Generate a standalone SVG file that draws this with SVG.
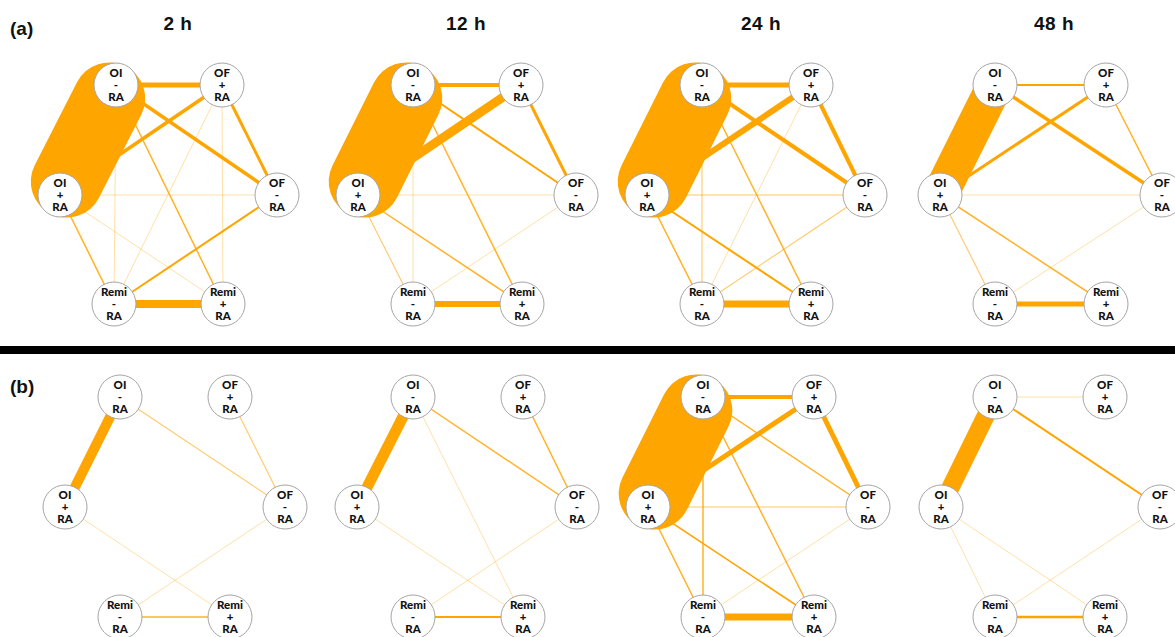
<svg xmlns="http://www.w3.org/2000/svg" width="1175" height="637" viewBox="0 0 1175 637">
<style>
.bg{fill:#fff}
.ttl{font-family:"Liberation Sans",Arial,sans-serif;font-weight:bold;font-size:19px;fill:#111}
.nc{fill:#fff;stroke:#a5a5a5;stroke-width:1}
.nt{font-family:Lato,"Liberation Sans",sans-serif;font-weight:900;font-size:11.5px;text-anchor:middle;fill:#111}
.e{stroke:#FFA500;fill:none;stroke-linecap:butt}
.v0{stroke-width:1;stroke-opacity:.35}
.v1{stroke-width:1.1;stroke-opacity:.6}
.v2{stroke-width:1.5;stroke-opacity:.85}
.blob{stroke:#FFA500;fill:none;stroke-linecap:round}
</style>
<rect class="bg" x="0" y="0" width="1175" height="637"/>
<g id="labels">
<text class="ttl" x="10" y="35">(a)</text>
<text class="ttl" x="10" y="393">(b)</text>
<text class="ttl" x="178" y="30" text-anchor="middle" letter-spacing="0.5">2 h</text>
<text class="ttl" x="466" y="30" text-anchor="middle" letter-spacing="0.5">12 h</text>
<text class="ttl" x="761" y="30" text-anchor="middle" letter-spacing="0.5">24 h</text>
<text class="ttl" x="1054" y="30" text-anchor="middle" letter-spacing="0.5">48 h</text>
</g>
<rect id="separator" x="0" y="346" width="1175" height="8" fill="#000"/>
<g id="connectors">
<g id="edges-a1">
<line class="blob" x1="109.2" y1="98.4" x2="66.8" y2="181.6" stroke-width="72"/>
<line class="e v0" x1="222" y1="85" x2="114" y2="304"/>
<line class="e v0" x1="222" y1="85" x2="223" y2="304"/>
<line class="e v0" x1="116" y1="85" x2="114" y2="304"/>
<line class="e v0" x1="60" y1="195" x2="277" y2="195"/>
<line class="e v0" x1="60" y1="195" x2="223" y2="304"/>
<line class="e v2" x1="116" y1="85" x2="223" y2="304"/>
<line class="e v2" x1="60" y1="195" x2="114" y2="304"/>
<line class="e" x1="277" y1="195" x2="114" y2="304" stroke-width="2"/>
<line class="e" x1="222" y1="85" x2="277" y2="195" stroke-width="3"/>
<line class="e" x1="116" y1="85" x2="277" y2="195" stroke-width="3.5"/>
<line class="e" x1="222" y1="85" x2="60" y2="195" stroke-width="3.5"/>
<line class="e" x1="116" y1="85" x2="222" y2="85" stroke-width="5"/>
<line class="e" x1="114" y1="304" x2="223" y2="304" stroke-width="8"/>
</g>
<g id="edges-a2">
<line class="blob" x1="406.3" y1="98.4" x2="364.7" y2="181.6" stroke-width="72"/>
<line class="e v0" x1="413" y1="85" x2="413" y2="304"/>
<line class="e v0" x1="358" y1="195" x2="576" y2="195"/>
<line class="e v0" x1="576" y1="195" x2="413" y2="304"/>
<line class="e v1" x1="358" y1="195" x2="413" y2="304"/>
<line class="e v2" x1="358" y1="195" x2="522" y2="304"/>
<line class="e v2" x1="413" y1="85" x2="522" y2="304"/>
<line class="e" x1="413" y1="85" x2="576" y2="195" stroke-width="2"/>
<line class="e" x1="521" y1="85" x2="576" y2="195" stroke-width="3"/>
<line class="e" x1="413" y1="85" x2="521" y2="85" stroke-width="4"/>
<line class="e" x1="521" y1="85" x2="358" y2="195" stroke-width="9"/>
<line class="e" x1="413" y1="304" x2="522" y2="304" stroke-width="6"/>
</g>
<g id="edges-a3">
<line class="blob" x1="695.3" y1="98.4" x2="653.7" y2="181.6" stroke-width="72"/>
<line class="e v0" x1="811" y1="85" x2="702" y2="304"/>
<line class="e v1" x1="702" y1="85" x2="702" y2="304"/>
<line class="e v1" x1="647" y1="195" x2="865" y2="195"/>
<line class="e v1" x1="865" y1="195" x2="702" y2="304"/>
<line class="e v2" x1="647" y1="195" x2="702" y2="304"/>
<line class="e v2" x1="702" y1="85" x2="811" y2="304"/>
<line class="e" x1="647" y1="195" x2="811" y2="304" stroke-width="2"/>
<line class="e" x1="702" y1="85" x2="865" y2="195" stroke-width="4"/>
<line class="e" x1="811" y1="85" x2="865" y2="195" stroke-width="4"/>
<line class="e" x1="702" y1="85" x2="811" y2="85" stroke-width="5"/>
<line class="e" x1="811" y1="85" x2="647" y2="195" stroke-width="6"/>
<line class="e" x1="702" y1="304" x2="811" y2="304" stroke-width="7"/>
</g>
<g id="edges-a4">
<line class="blob" x1="990.5" y1="93.9" x2="944.5" y2="186.1" stroke-width="36"/>
<line class="e v0" x1="940" y1="195" x2="1162" y2="195"/>
<line class="e v0" x1="1162" y1="195" x2="995" y2="304"/>
<line class="e v1" x1="940" y1="195" x2="995" y2="304"/>
<line class="e v2" x1="940" y1="195" x2="1106" y2="304"/>
<line class="e v2" x1="1106" y1="85" x2="1162" y2="195"/>
<line class="e" x1="995" y1="85" x2="1106" y2="85" stroke-width="2"/>
<line class="e" x1="1106" y1="85" x2="940" y2="195" stroke-width="3"/>
<line class="e" x1="995" y1="85" x2="1162" y2="195" stroke-width="3.5"/>
<line class="e" x1="995" y1="304" x2="1106" y2="304" stroke-width="5"/>
</g>
<g id="edges-b1">
<line class="e v0" x1="65" y1="507" x2="230" y2="617"/>
<line class="e v0" x1="285" y1="507" x2="120" y2="617"/>
<line class="e v1" x1="120" y1="397" x2="285" y2="507"/>
<line class="e v1" x1="230" y1="397" x2="285" y2="507"/>
<line class="e v2" x1="120" y1="617" x2="230" y2="617"/>
<line class="e" x1="120" y1="397" x2="65" y2="507" stroke-width="10"/>
</g>
<g id="edges-b2">
<line class="e v0" x1="413" y1="397" x2="523" y2="617"/>
<line class="e v0" x1="357" y1="507" x2="523" y2="617"/>
<line class="e v0" x1="577" y1="507" x2="413" y2="617"/>
<line class="e v2" x1="413" y1="397" x2="577" y2="507"/>
<line class="e v2" x1="523" y1="397" x2="577" y2="507"/>
<line class="e" x1="413" y1="617" x2="523" y2="617" stroke-width="1.8"/>
<line class="e" x1="413" y1="397" x2="357" y2="507" stroke-width="11"/>
</g>
<g id="edges-b3">
<line class="blob" x1="696.3" y1="410.4" x2="654.7" y2="493.6" stroke-width="72"/>
<line class="e v0" x1="868" y1="507" x2="703" y2="617"/>
<line class="e v1" x1="648" y1="507" x2="868" y2="507"/>
<line class="e v2" x1="703" y1="397" x2="703" y2="617"/>
<line class="e v2" x1="703" y1="397" x2="814" y2="617"/>
<line class="e v2" x1="648" y1="507" x2="703" y2="617"/>
<line class="e v2" x1="703" y1="397" x2="868" y2="507"/>
<line class="e" x1="648" y1="507" x2="814" y2="617" stroke-width="1.6"/>
<line class="e" x1="703" y1="397" x2="814" y2="397" stroke-width="4"/>
<line class="e" x1="814" y1="397" x2="648" y2="507" stroke-width="5"/>
<line class="e" x1="814" y1="397" x2="868" y2="507" stroke-width="5"/>
<line class="e" x1="703" y1="617" x2="814" y2="617" stroke-width="7"/>
</g>
<g id="edges-b4">
<line class="e v0" x1="995" y1="397" x2="1105" y2="397"/>
<line class="e v0" x1="941" y1="507" x2="995" y2="617"/>
<line class="e v0" x1="941" y1="507" x2="1105" y2="617"/>
<line class="e v0" x1="1160" y1="507" x2="995" y2="617"/>
<line class="e" x1="995" y1="397" x2="1160" y2="507" stroke-width="2"/>
<line class="e" x1="995" y1="617" x2="1105" y2="617" stroke-width="2.5"/>
<line class="e" x1="995" y1="397" x2="941" y2="507" stroke-width="18"/>
</g>
</g>
<g id="nodes">
<g id="a1-OI-RA" transform="translate(116,85)"><circle class="nc" r="22"/><text class="nt"><tspan x="0" y="-8.5">OI</tspan><tspan x="0" y="3.5">-</tspan><tspan x="0" y="15.5">RA</tspan></text></g>
<g id="a1-OF+RA" transform="translate(222,85)"><circle class="nc" r="22"/><text class="nt"><tspan x="0" y="-8.5">OF</tspan><tspan x="0" y="3.5">+</tspan><tspan x="0" y="15.5">RA</tspan></text></g>
<g id="a1-OF-RA" transform="translate(277,195)"><circle class="nc" r="22"/><text class="nt"><tspan x="0" y="-8.5">OF</tspan><tspan x="0" y="3.5">-</tspan><tspan x="0" y="15.5">RA</tspan></text></g>
<g id="a1-OI+RA" transform="translate(60,195)"><circle class="nc" r="22"/><text class="nt"><tspan x="0" y="-8.5">OI</tspan><tspan x="0" y="3.5">+</tspan><tspan x="0" y="15.5">RA</tspan></text></g>
<g id="a1-Remi-RA" transform="translate(114,304)"><circle class="nc" r="22"/><text class="nt"><tspan x="0" y="-8.5">Remi</tspan><tspan x="0" y="3.5">-</tspan><tspan x="0" y="15.5">RA</tspan></text></g>
<g id="a1-Remi+RA" transform="translate(223,304)"><circle class="nc" r="22"/><text class="nt"><tspan x="0" y="-8.5">Remi</tspan><tspan x="0" y="3.5">+</tspan><tspan x="0" y="15.5">RA</tspan></text></g>

<g id="a2-OI-RA" transform="translate(413,85)"><circle class="nc" r="22"/><text class="nt"><tspan x="0" y="-8.5">OI</tspan><tspan x="0" y="3.5">-</tspan><tspan x="0" y="15.5">RA</tspan></text></g>
<g id="a2-OF+RA" transform="translate(521,85)"><circle class="nc" r="22"/><text class="nt"><tspan x="0" y="-8.5">OF</tspan><tspan x="0" y="3.5">+</tspan><tspan x="0" y="15.5">RA</tspan></text></g>
<g id="a2-OF-RA" transform="translate(576,195)"><circle class="nc" r="22"/><text class="nt"><tspan x="0" y="-8.5">OF</tspan><tspan x="0" y="3.5">-</tspan><tspan x="0" y="15.5">RA</tspan></text></g>
<g id="a2-OI+RA" transform="translate(358,195)"><circle class="nc" r="22"/><text class="nt"><tspan x="0" y="-8.5">OI</tspan><tspan x="0" y="3.5">+</tspan><tspan x="0" y="15.5">RA</tspan></text></g>
<g id="a2-Remi-RA" transform="translate(413,304)"><circle class="nc" r="22"/><text class="nt"><tspan x="0" y="-8.5">Remi</tspan><tspan x="0" y="3.5">-</tspan><tspan x="0" y="15.5">RA</tspan></text></g>
<g id="a2-Remi+RA" transform="translate(522,304)"><circle class="nc" r="22"/><text class="nt"><tspan x="0" y="-8.5">Remi</tspan><tspan x="0" y="3.5">+</tspan><tspan x="0" y="15.5">RA</tspan></text></g>

<g id="a3-OI-RA" transform="translate(702,85)"><circle class="nc" r="22"/><text class="nt"><tspan x="0" y="-8.5">OI</tspan><tspan x="0" y="3.5">-</tspan><tspan x="0" y="15.5">RA</tspan></text></g>
<g id="a3-OF+RA" transform="translate(811,85)"><circle class="nc" r="22"/><text class="nt"><tspan x="0" y="-8.5">OF</tspan><tspan x="0" y="3.5">+</tspan><tspan x="0" y="15.5">RA</tspan></text></g>
<g id="a3-OF-RA" transform="translate(865,195)"><circle class="nc" r="22"/><text class="nt"><tspan x="0" y="-8.5">OF</tspan><tspan x="0" y="3.5">-</tspan><tspan x="0" y="15.5">RA</tspan></text></g>
<g id="a3-OI+RA" transform="translate(647,195)"><circle class="nc" r="22"/><text class="nt"><tspan x="0" y="-8.5">OI</tspan><tspan x="0" y="3.5">+</tspan><tspan x="0" y="15.5">RA</tspan></text></g>
<g id="a3-Remi-RA" transform="translate(702,304)"><circle class="nc" r="22"/><text class="nt"><tspan x="0" y="-8.5">Remi</tspan><tspan x="0" y="3.5">-</tspan><tspan x="0" y="15.5">RA</tspan></text></g>
<g id="a3-Remi+RA" transform="translate(811,304)"><circle class="nc" r="22"/><text class="nt"><tspan x="0" y="-8.5">Remi</tspan><tspan x="0" y="3.5">+</tspan><tspan x="0" y="15.5">RA</tspan></text></g>

<g id="a4-OI-RA" transform="translate(995,85)"><circle class="nc" r="22"/><text class="nt"><tspan x="0" y="-8.5">OI</tspan><tspan x="0" y="3.5">-</tspan><tspan x="0" y="15.5">RA</tspan></text></g>
<g id="a4-OF+RA" transform="translate(1106,85)"><circle class="nc" r="22"/><text class="nt"><tspan x="0" y="-8.5">OF</tspan><tspan x="0" y="3.5">+</tspan><tspan x="0" y="15.5">RA</tspan></text></g>
<g id="a4-OF-RA" transform="translate(1162,195)"><circle class="nc" r="22"/><text class="nt"><tspan x="0" y="-8.5">OF</tspan><tspan x="0" y="3.5">-</tspan><tspan x="0" y="15.5">RA</tspan></text></g>
<g id="a4-OI+RA" transform="translate(940,195)"><circle class="nc" r="22"/><text class="nt"><tspan x="0" y="-8.5">OI</tspan><tspan x="0" y="3.5">+</tspan><tspan x="0" y="15.5">RA</tspan></text></g>
<g id="a4-Remi-RA" transform="translate(995,304)"><circle class="nc" r="22"/><text class="nt"><tspan x="0" y="-8.5">Remi</tspan><tspan x="0" y="3.5">-</tspan><tspan x="0" y="15.5">RA</tspan></text></g>
<g id="a4-Remi+RA" transform="translate(1106,304)"><circle class="nc" r="22"/><text class="nt"><tspan x="0" y="-8.5">Remi</tspan><tspan x="0" y="3.5">+</tspan><tspan x="0" y="15.5">RA</tspan></text></g>

<g id="b1-OI-RA" transform="translate(120,397)"><circle class="nc" r="22"/><text class="nt"><tspan x="0" y="-8.5">OI</tspan><tspan x="0" y="3.5">-</tspan><tspan x="0" y="15.5">RA</tspan></text></g>
<g id="b1-OF+RA" transform="translate(230,397)"><circle class="nc" r="22"/><text class="nt"><tspan x="0" y="-8.5">OF</tspan><tspan x="0" y="3.5">+</tspan><tspan x="0" y="15.5">RA</tspan></text></g>
<g id="b1-OF-RA" transform="translate(285,507)"><circle class="nc" r="22"/><text class="nt"><tspan x="0" y="-8.5">OF</tspan><tspan x="0" y="3.5">-</tspan><tspan x="0" y="15.5">RA</tspan></text></g>
<g id="b1-OI+RA" transform="translate(65,507)"><circle class="nc" r="22"/><text class="nt"><tspan x="0" y="-8.5">OI</tspan><tspan x="0" y="3.5">+</tspan><tspan x="0" y="15.5">RA</tspan></text></g>
<g id="b1-Remi-RA" transform="translate(120,617)"><circle class="nc" r="22"/><text class="nt"><tspan x="0" y="-8.5">Remi</tspan><tspan x="0" y="3.5">-</tspan><tspan x="0" y="15.5">RA</tspan></text></g>
<g id="b1-Remi+RA" transform="translate(230,617)"><circle class="nc" r="22"/><text class="nt"><tspan x="0" y="-8.5">Remi</tspan><tspan x="0" y="3.5">+</tspan><tspan x="0" y="15.5">RA</tspan></text></g>

<g id="b2-OI-RA" transform="translate(413,397)"><circle class="nc" r="22"/><text class="nt"><tspan x="0" y="-8.5">OI</tspan><tspan x="0" y="3.5">-</tspan><tspan x="0" y="15.5">RA</tspan></text></g>
<g id="b2-OF+RA" transform="translate(523,397)"><circle class="nc" r="22"/><text class="nt"><tspan x="0" y="-8.5">OF</tspan><tspan x="0" y="3.5">+</tspan><tspan x="0" y="15.5">RA</tspan></text></g>
<g id="b2-OF-RA" transform="translate(577,507)"><circle class="nc" r="22"/><text class="nt"><tspan x="0" y="-8.5">OF</tspan><tspan x="0" y="3.5">-</tspan><tspan x="0" y="15.5">RA</tspan></text></g>
<g id="b2-OI+RA" transform="translate(357,507)"><circle class="nc" r="22"/><text class="nt"><tspan x="0" y="-8.5">OI</tspan><tspan x="0" y="3.5">+</tspan><tspan x="0" y="15.5">RA</tspan></text></g>
<g id="b2-Remi-RA" transform="translate(413,617)"><circle class="nc" r="22"/><text class="nt"><tspan x="0" y="-8.5">Remi</tspan><tspan x="0" y="3.5">-</tspan><tspan x="0" y="15.5">RA</tspan></text></g>
<g id="b2-Remi+RA" transform="translate(523,617)"><circle class="nc" r="22"/><text class="nt"><tspan x="0" y="-8.5">Remi</tspan><tspan x="0" y="3.5">+</tspan><tspan x="0" y="15.5">RA</tspan></text></g>

<g id="b3-OI-RA" transform="translate(703,397)"><circle class="nc" r="22"/><text class="nt"><tspan x="0" y="-8.5">OI</tspan><tspan x="0" y="3.5">-</tspan><tspan x="0" y="15.5">RA</tspan></text></g>
<g id="b3-OF+RA" transform="translate(814,397)"><circle class="nc" r="22"/><text class="nt"><tspan x="0" y="-8.5">OF</tspan><tspan x="0" y="3.5">+</tspan><tspan x="0" y="15.5">RA</tspan></text></g>
<g id="b3-OF-RA" transform="translate(868,507)"><circle class="nc" r="22"/><text class="nt"><tspan x="0" y="-8.5">OF</tspan><tspan x="0" y="3.5">-</tspan><tspan x="0" y="15.5">RA</tspan></text></g>
<g id="b3-OI+RA" transform="translate(648,507)"><circle class="nc" r="22"/><text class="nt"><tspan x="0" y="-8.5">OI</tspan><tspan x="0" y="3.5">+</tspan><tspan x="0" y="15.5">RA</tspan></text></g>
<g id="b3-Remi-RA" transform="translate(703,617)"><circle class="nc" r="22"/><text class="nt"><tspan x="0" y="-8.5">Remi</tspan><tspan x="0" y="3.5">-</tspan><tspan x="0" y="15.5">RA</tspan></text></g>
<g id="b3-Remi+RA" transform="translate(814,617)"><circle class="nc" r="22"/><text class="nt"><tspan x="0" y="-8.5">Remi</tspan><tspan x="0" y="3.5">+</tspan><tspan x="0" y="15.5">RA</tspan></text></g>

<g id="b4-OI-RA" transform="translate(995,397)"><circle class="nc" r="22"/><text class="nt"><tspan x="0" y="-8.5">OI</tspan><tspan x="0" y="3.5">-</tspan><tspan x="0" y="15.5">RA</tspan></text></g>
<g id="b4-OF+RA" transform="translate(1105,397)"><circle class="nc" r="22"/><text class="nt"><tspan x="0" y="-8.5">OF</tspan><tspan x="0" y="3.5">+</tspan><tspan x="0" y="15.5">RA</tspan></text></g>
<g id="b4-OF-RA" transform="translate(1160,507)"><circle class="nc" r="22"/><text class="nt"><tspan x="0" y="-8.5">OF</tspan><tspan x="0" y="3.5">-</tspan><tspan x="0" y="15.5">RA</tspan></text></g>
<g id="b4-OI+RA" transform="translate(941,507)"><circle class="nc" r="22"/><text class="nt"><tspan x="0" y="-8.5">OI</tspan><tspan x="0" y="3.5">+</tspan><tspan x="0" y="15.5">RA</tspan></text></g>
<g id="b4-Remi-RA" transform="translate(995,617)"><circle class="nc" r="22"/><text class="nt"><tspan x="0" y="-8.5">Remi</tspan><tspan x="0" y="3.5">-</tspan><tspan x="0" y="15.5">RA</tspan></text></g>
<g id="b4-Remi+RA" transform="translate(1105,617)"><circle class="nc" r="22"/><text class="nt"><tspan x="0" y="-8.5">Remi</tspan><tspan x="0" y="3.5">+</tspan><tspan x="0" y="15.5">RA</tspan></text></g>
</g>
</svg>
